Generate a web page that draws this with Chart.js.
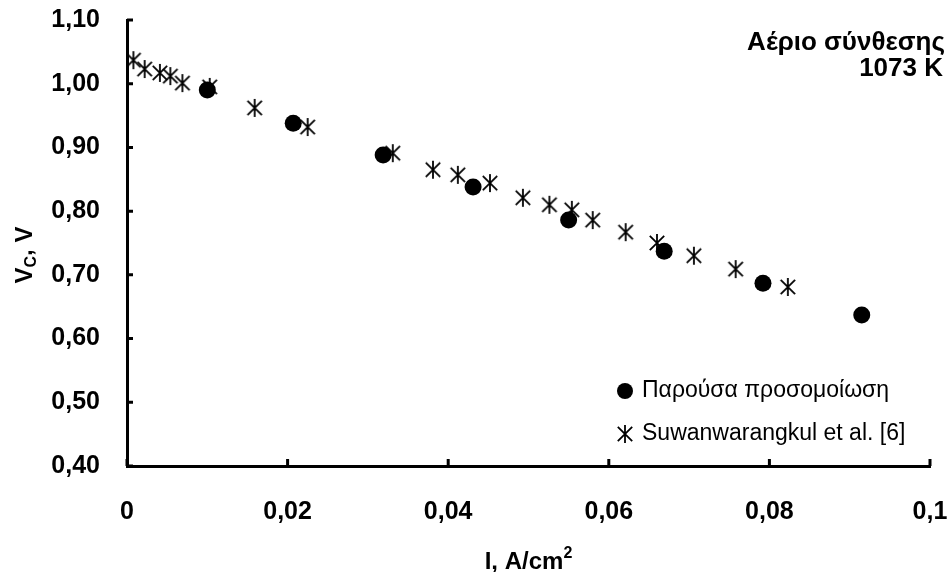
<!DOCTYPE html>
<html>
<head>
<meta charset="utf-8">
<script src="https://cdn.jsdelivr.net/npm/chart.js@4.4.1/dist/chart.umd.min.js"></script>
<style>
html, body { margin: 0; padding: 0; background: #fff; }
#wrap { width: 949px; height: 572px; position: relative; }
</style>
</head>
<body>
<div id="wrap"><canvas id="chart"></canvas></div>
<script>
// ── Data ──
const simI = [0.0100, 0.0207, 0.0319, 0.0431, 0.0550, 0.0669, 0.0792, 0.0915];
const simV = [0.990, 0.938, 0.888, 0.838, 0.786, 0.737, 0.687, 0.637];

const expI = [0.0008, 0.0022, 0.0041, 0.0054, 0.0069, 0.0103, 0.0159, 0.0225, 0.0331,
              0.0381, 0.0412, 0.0452, 0.0493, 0.0526, 0.0554, 0.0580, 0.0621, 0.0660,
              0.0706, 0.0758, 0.0823];
const expV = [1.037, 1.023, 1.017, 1.012, 1.001, 0.995, 0.962, 0.932, 0.891,
              0.865, 0.857, 0.844, 0.821, 0.810, 0.802, 0.786, 0.767, 0.750,
              0.730, 0.709, 0.681];

const seriesNames = ['Παρούσα προσομοίωση', 'Suwanwarangkul et al. [6]'];
const titleLines = ['Αέριο σύνθεσης', '1073 K'];

const FONT = "'Liberation Sans', Arial, sans-serif";

// ── Asterisk marker (X plus a vertical bar, like Excel) ──
function makeStar(size) {
    const c = document.createElement('canvas');
    c.width = size; c.height = size;
    const g = c.getContext('2d');
    const m = size / 2, r = size / 2 - 1;
    g.strokeStyle = '#000';
    g.lineWidth = 1.8;
    g.beginPath();
    g.moveTo(m - r * 0.8, m - r * 0.8); g.lineTo(m + r * 0.8, m + r * 0.8);
    g.moveTo(m + r * 0.8, m - r * 0.8); g.lineTo(m - r * 0.8, m + r * 0.8);
    g.moveTo(m, m - r); g.lineTo(m, m + r);
    g.stroke();
    return c;
}
const starImg = makeStar(20);

const toXY = (xs, ys) => xs.map((x, i) => ({ x: x, y: ys[i] }));
const comma = (v, d) => v.toFixed(d).replace('.', ',');

// ── Inside tick marks ──
const innerTicks = {
    id: 'innerTicks',
    afterDraw(chart) {
        const { ctx, chartArea: a, scales: { x, y } } = chart;
        ctx.save();
        ctx.strokeStyle = '#000';
        ctx.lineWidth = 3;
        ctx.beginPath();
        y.ticks.forEach(t => {
            const py = y.getPixelForValue(t.value);
            ctx.moveTo(a.left, py); ctx.lineTo(a.left + 6, py);
        });
        x.ticks.forEach(t => {
            const px = x.getPixelForValue(t.value);
            ctx.moveTo(px, a.bottom); ctx.lineTo(px, a.bottom - 7);
        });
        ctx.stroke();
        ctx.restore();
    }
};

// ── Titles, axis titles with sub/superscripts, legend ──
const annotations = {
    id: 'annotations',
    afterDraw(chart) {
        const { ctx, chartArea: a } = chart;
        ctx.save();
        ctx.fillStyle = '#000';

        // top-right caption
        ctx.font = 'bold 26px ' + FONT;
        ctx.textAlign = 'right';
        ctx.textBaseline = 'alphabetic';
        ctx.fillText(titleLines[0], 945, 50);
        ctx.fillText(titleLines[1], 943, 76);

        // x axis title: I, A/cm²
        const big = 'bold 24px ' + FONT, small = 'bold 16px ' + FONT;
        ctx.textAlign = 'left';
        ctx.font = big;
        const xMain = 'I, A/cm';
        const w1 = ctx.measureText(xMain).width;
        ctx.font = small;
        const w2 = ctx.measureText('2').width;
        let sx = (a.left + a.right) / 2 - (w1 + w2) / 2;
        ctx.font = big;
        ctx.fillText(xMain, sx, 569);
        ctx.font = small;
        ctx.fillText('2', sx + w1, 558);

        // y axis title: Vc, V (rotated)
        ctx.translate(32, 255);
        ctx.rotate(-Math.PI / 2);
        ctx.font = big;
        const wa = ctx.measureText('V').width;
        const wc = (ctx.font = small, ctx.measureText('C').width);
        ctx.font = big;
        const wb = ctx.measureText(', V').width;
        let ty = -(wa + wc + wb) / 2;
        ctx.fillText('V', ty, 0);
        ctx.font = small;
        ctx.fillText('C', ty + wa, 4);
        ctx.font = big;
        ctx.fillText(', V', ty + wa + wc, 0);
        ctx.setTransform(1, 0, 0, 1, 0, 0);

        // legend
        ctx.font = '23px ' + FONT;
        ctx.textBaseline = 'middle';
        const lx = 625, rows = [391, 434];
        ctx.beginPath();
        ctx.arc(lx, rows[0], 8, 0, Math.PI * 2);
        ctx.fill();
        ctx.drawImage(starImg, lx - 10, rows[1] - 10);
        ctx.fillText(seriesNames[0], lx + 17, rows[0]);
        ctx.fillText(seriesNames[1], lx + 17, rows[1]);
        ctx.restore();
    }
};

new Chart(document.getElementById('chart'), {
    type: 'scatter',
    data: {
        datasets: [
            {
                label: seriesNames[0],
                data: toXY(simI, simV),
                pointStyle: 'circle',
                pointRadius: 8.5,
                backgroundColor: '#000',
                borderColor: '#000',
                borderWidth: 0,
                order: 2
            },
            {
                label: seriesNames[1],
                data: toXY(expI, expV),
                pointStyle: starImg,
                pointRadius: 10,
                order: 1
            }
        ]
    },
    options: {
        responsive: true,
        maintainAspectRatio: false,
        animation: false,
        events: [],
        layout: { padding: { top: 20, right: 19, left: 0, bottom: 0 } },
        plugins: {
            legend: { display: false },
            tooltip: { enabled: false }
        },
        scales: {
            x: {
                type: 'linear',
                min: 0, max: 0.1,
                afterFit: s => {
                    s.height = 106;
                    s.paddingLeft = 0; s.paddingRight = 0;
                },
                grid: { display: false, drawTicks: false },
                border: { display: true, color: '#000', width: 3 },
                ticks: {
                    stepSize: 0.02,
                    padding: 31,
                    color: '#000',
                    font: { family: FONT, size: 25, weight: 'bold' },
                    maxRotation: 0,
                    callback: v => v === 0 ? '0' : (Math.abs(v - 0.1) < 1e-9 ? '0,1' : comma(v, 2))
                }
            },
            y: {
                type: 'linear',
                min: 0.4, max: 1.1,
                afterFit: s => {
                    s.width = 127;
                    s.paddingTop = 0; s.paddingBottom = 0;
                },
                grid: { display: false, drawTicks: false },
                border: { display: true, color: '#000', width: 3 },
                ticks: {
                    stepSize: 0.1,
                    padding: 27,
                    color: '#000',
                    font: { family: FONT, size: 25, weight: 'bold' },
                    callback: v => comma(v, 2)
                }
            }
        }
    },
    plugins: [innerTicks, annotations]
});
</script>
</body>
</html>
